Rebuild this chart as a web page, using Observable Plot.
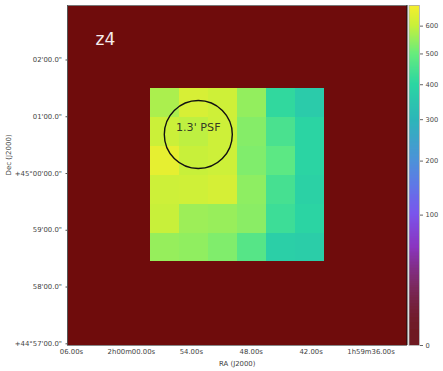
<!DOCTYPE html>
<html><head><meta charset="utf-8">
<script src="https://cdn.jsdelivr.net/npm/d3@7"></script>
<script src="https://cdn.jsdelivr.net/npm/@observablehq/plot@0.6"></script>
<style>
html,body{margin:0;padding:0;background:#fff}
#c{position:relative;width:443px;height:371px;overflow:hidden}
#c svg{position:absolute;left:0;top:0;background:none}
</style></head><body><div id="c"></div>
<script>
// RA in seconds relative to 2h00m00s (reversed on the sky); Dec in arcmin relative to +45d00m
const raEdges = [-1.95,-4.84,-7.73,-10.62,-13.51,-16.4,-19.3];
const decEdges = [1.495, 0.985, 0.475, -0.035, -0.545, -1.055, -1.55];
const flux = [
 [570,625,610,545,410,365],
 [605,590,608,530,450,395],
 [650,600,608,525,480,395],
 [608,612,622,540,445,385],
 [600,555,550,535,430,395],
 [548,542,525,470,378,372]
];
const raTicks = [6,0,-6,-12,-18,-24];
const raLabels = ["06.00s","2h00m00.00s","54.00s","48.00s","42.00s","1h59m36.00s"];
const decTicks = [2,1,0,-1,-2,-3];
const decLabels = ["02'00.0\"","01'00.0\"","+45°00'00.0\"","59'00.0\"","58'00.0\"","+44°57'00.0\""];
const barTicks = [0,100,200,300,400,500,600];
const colorStops = [0,23,56,100,150,200,300,400,500,600,680];
const colorRange = ["#6f1a22","#7d2a6a","#8a35c0","#7a55ec","#5f78e6","#4c92d8","#2cb6b8","#2bd6a2","#68ec7c","#c8f03a","#f8ee2c"];
const bgColor = "#6f0c0c";
const cells = flux.flatMap((row,j)=>row.map((v,i)=>({x1:raEdges[i],x2:raEdges[i+1],y1:decEdges[j],y2:decEdges[j+1],v})));
const psf = [{ra:-6.7,dec:0.687,label:"1.3' PSF",ly:0.82}];
const bandLabel = [{ra:2.6,dec:2.36,label:"z4"}];
const levels = d3.range(0,680,1.5);
const font = "'DejaVu Sans',sans-serif";
const colorOpt = () => ({type:"linear",domain:colorStops,range:colorRange,interpolate:"rgb"});

const main = Plot.plot({
  width:443,height:371,marginLeft:67,marginRight:36.5,marginTop:5,marginBottom:26,
  style:{fontFamily:font,background:"none",overflow:"visible"},
  x:{domain:[6.4,-27.6]},
  y:{domain:[-3.03,2.96]},
  color:colorOpt(),
  marks:[
    Plot.frame({fill:bgColor}),
    Plot.rect(cells,{x1:"x1",x2:"x2",y1:"y1",y2:"y2",fill:"v",shapeRendering:"crispEdges"}),
    Plot.ruleY([2.96],{stroke:"#777",strokeWidth:1}),
    Plot.ruleX([6.4],{stroke:"#555",strokeWidth:1}),
    Plot.ruleX([-27.6],{stroke:"#111",strokeWidth:1}),
    Plot.ruleY([-3.03],{stroke:"#888",strokeWidth:1}),
    Plot.axisX({ticks:raTicks,tickFormat:d=>raLabels[raTicks.indexOf(d)],tickSize:0,tickPadding:4,fontSize:6.9,fill:"#444",label:"RA (J2000)",labelAnchor:"center",labelArrow:"none",labelOffset:20}),
    Plot.axisY({ticks:decTicks,tickFormat:d=>decLabels[decTicks.indexOf(d)],tickSize:1.5,tickPadding:4,fontSize:6.9,fill:"#444",stroke:"#555",label:null}),
    Plot.dot(psf,{x:"ra",y:"dec",r:34,stroke:"#111",strokeWidth:1.4,fill:"none"}),
    Plot.text(psf,{x:"ra",y:"ly",text:"label",fontSize:11.2,fill:"#222",fillOpacity:0.9}),
    Plot.text(bandLabel,{x:"ra",y:"dec",text:"label",fontSize:17,fill:"#f5ecec"})
  ]
});
const side = Plot.text(["Dec (J2000)"],{frameAnchor:"left",dx:8,rotate:-90,text:d=>d,fontSize:7,fill:"#444"}).plot({
  width:30,height:371,marginLeft:0,marginRight:0,marginTop:5,marginBottom:26,
  style:{fontFamily:font,background:"none"}
});
const bar = Plot.plot({
  width:443,height:371,marginLeft:408.5,marginRight:24,marginTop:5,marginBottom:26,
  style:{fontFamily:font,background:"none",overflow:"visible"},
  x:{domain:[0,1],axis:null},
  y:{type:"sqrt",domain:[0,680],label:null},
  color:colorOpt(),
  marks:[
    Plot.rect(levels,{x1:0,x2:1,y1:d=>d,y2:d=>d+1.6,fill:d=>d,shapeRendering:"crispEdges"}),
    Plot.frame({stroke:"#aaa",strokeWidth:0.8}),
    Plot.axisY({anchor:"right",ticks:barTicks,tickFormat:d=>String(d),tickSize:3,tickPadding:3,fontSize:6.7,fill:"#444",stroke:"#666",label:null})
  ]
});
document.getElementById("c").append(main,side,bar);
</script></body></html>
